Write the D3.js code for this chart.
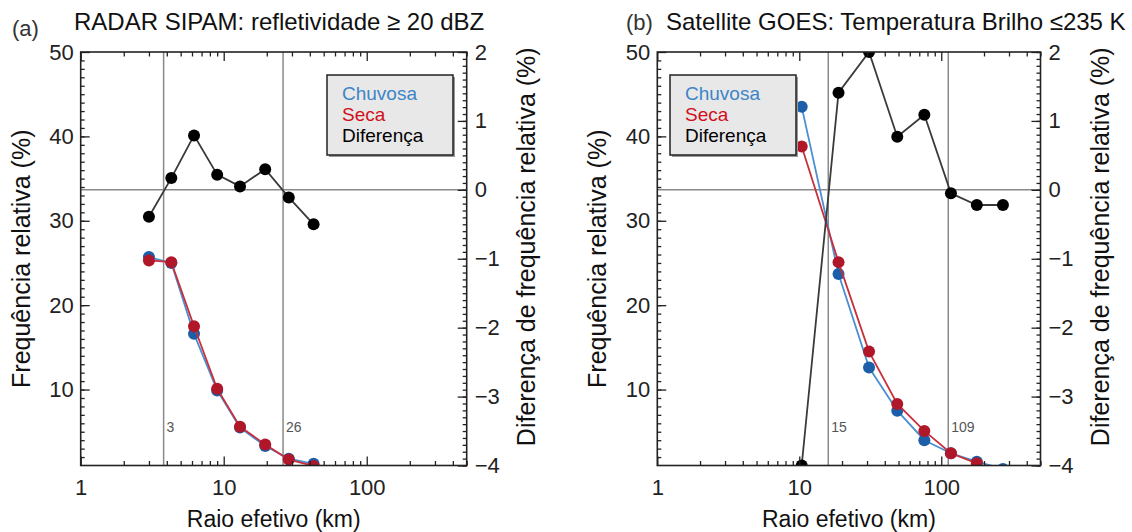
<!DOCTYPE html>
<html>
<head>
<meta charset="utf-8">
<script src="https://cdn.jsdelivr.net/npm/d3@7"></script>
<style>
  body { margin: 0; background: #fff; }
  svg { font-family: "Liberation Sans", Arial, Helvetica, sans-serif; }
  .domain { display: none; }
</style>
</head>
<body>
<svg id="chart" width="1132" height="532"></svg>
<script>
// panel (a) radar
const radiusA = [3.0, 4.3, 6.2, 9.0, 13.0, 19.5, 28.5, 42.5];
const chuvosaA = [25.7, 25.0, 16.6, 9.9, 5.5, 3.3, 1.8, 1.2];
const secaA = [25.3, 25.1, 17.5, 10.1, 5.6, 3.5, 1.7, 0.95];
const difA = [-0.39, 0.17, 0.79, 0.22, 0.05, 0.30, -0.11, -0.50];
const limitsA = [3.8, 26];
const limitLabelsA = ["3", "26"];

// panel (b) satellite
const radiusB = [10.4, 18.9, 31, 49, 76, 117, 178, 272];
const chuvosaB = [43.5, 23.7, 12.6, 7.5, 4.0, 2.45, 1.45, 0.6];
const secaB = [38.8, 25.1, 14.5, 8.3, 5.1, 2.45, 1.26, null];
const difB = [-4.0, 1.41, 2.0, 0.77, 1.09, -0.05, -0.22, -0.22];
const limitsB = [16, 112];
const limitLabelsB = ["15", "109"];

// axes
const xTicks = [1, 10, 100];
const xMinor = [2, 3, 4, 5, 6, 7, 8, 9, 20, 30, 40, 50, 60, 70, 80, 90, 200, 300, 400, 500];
const yTicks = [10, 20, 30, 40, 50];
const difTicks = [-4, -3, -2, -1, 0, 1, 2];
const legendNames = ["Chuvosa", "Seca", "Diferença"];

const colors = {
    chuvosa: "#1c5ea8", chuvosaLine: "#4a8fd0",
    seca: "#b0182a", secaLine: "#c8303c",
    dif: "#000", difLine: "#3a3a3a",
    legend: ["#3d85c6", "#d0101c", "#000"]
};

const svg = d3.select("#chart");

function drawPanel(opts) {
    const { left, right, top, bottom } = opts;

    const x = d3.scaleLog().domain([1, 500]).range([left, right]);
    const y = d3.scaleLinear().domain([1, 50]).range([bottom, top]);
    const yDif = d3.scaleLinear().domain([-4, 2]).range([bottom, top]);

    const g = svg.append("g");
    const clipId = "clip-" + opts.id;
    g.append("clipPath").attr("id", clipId)
        .append("rect")
        .attr("x", left).attr("y", top)
        .attr("width", right - left).attr("height", bottom - top);

    //reference lines
    g.selectAll(".limit")
        .data(opts.limits)
        .enter().append("line")
        .attr("x1", d => x(d)).attr("x2", d => x(d))
        .attr("y1", top).attr("y2", bottom)
        .attr("stroke", "#8a8a8a").attr("stroke-width", 1.5);

    g.selectAll(".limitLabel")
        .data(opts.limits)
        .enter().append("text")
        .attr("x", d => x(d) + 3)
        .attr("y", 432)
        .attr("font-size", 14)
        .attr("fill", "#555")
        .text((d, i) => opts.limitLabels[i]);

    g.append("line")
        .attr("x1", left).attr("x2", right)
        .attr("y1", yDif(0)).attr("y2", yDif(0))
        .attr("stroke", "#8a8a8a").attr("stroke-width", 1.5);

    //series
    const data = g.append("g").attr("clip-path", `url(#${clipId})`);

    function series(values, yScale, lineColor, dotColor, width) {
        const pts = opts.radius.map((r, i) => ({ r: r, v: values[i] }))
            .filter(d => d.v != null);
        data.append("path")
            .datum(pts)
            .attr("fill", "none")
            .attr("stroke", lineColor)
            .attr("stroke-width", width)
            .attr("d", d3.line().x(d => x(d.r)).y(d => yScale(d.v)));
        data.selectAll(null)
            .data(pts)
            .enter().append("circle")
            .attr("cx", d => x(d.r))
            .attr("cy", d => yScale(d.v))
            .attr("r", 6)
            .attr("fill", dotColor);
    }

    series(opts.chuvosa, y, colors.chuvosaLine, colors.chuvosa, 1.8);
    series(opts.seca, y, colors.secaLine, colors.seca, 1.8);
    series(opts.dif, yDif, colors.difLine, colors.dif, 1.8);

    //frame
    g.append("rect")
        .attr("x", left).attr("y", top)
        .attr("width", right - left).attr("height", bottom - top)
        .attr("fill", "none").attr("stroke", "#222").attr("stroke-width", 1.6);

    const tickStyle = sel => {
        sel.selectAll(".tick line").attr("stroke", "#222").attr("stroke-width", 1.3);
        sel.selectAll(".tick text").attr("fill", "#222").attr("font-size", 22);
        sel.attr("font-family", null);
    };

    g.append("g").attr("transform", `translate(${left},0)`)
        .call(d3.axisLeft(y).tickValues(yTicks).tickSize(-9).tickPadding(7))
        .call(tickStyle);
    g.append("g").attr("transform", `translate(${left},0)`)
        .call(d3.axisLeft(y).tickValues(d3.range(2, 50)).tickSize(-4).tickFormat(""))
        .call(tickStyle);

    g.append("g").attr("transform", `translate(${right},0)`)
        .call(d3.axisRight(yDif).tickValues(difTicks).tickSize(-9).tickPadding(8)
            .tickFormat(d => d < 0 ? "\u2212" + Math.abs(d) : d))
        .call(tickStyle);
    g.append("g").attr("transform", `translate(${right},0)`)
        .call(d3.axisRight(yDif).tickValues(d3.range(-40, 21).map(d => d / 10)).tickSize(-4).tickFormat(""))
        .call(tickStyle);

    g.append("g").attr("transform", `translate(0,${bottom})`)
        .call(d3.axisBottom(x).tickValues(xTicks).tickSize(-9).tickPadding(14).tickFormat(d3.format("d")))
        .call(tickStyle);
    g.append("g").attr("transform", `translate(0,${bottom})`)
        .call(d3.axisBottom(x).tickValues(xMinor).tickSize(-4.5).tickFormat(""))
        .call(tickStyle);
    g.append("g").attr("transform", `translate(0,${top})`)
        .call(d3.axisTop(x).tickValues(xTicks).tickSize(-9).tickFormat(""))
        .call(tickStyle);
    g.append("g").attr("transform", `translate(0,${top})`)
        .call(d3.axisTop(x).tickValues(xMinor).tickSize(-4.5).tickFormat(""))
        .call(tickStyle);

    //titles
    g.append("text")
        .attr("x", opts.tagX).attr("y", opts.tagY)
        .attr("font-size", 22).attr("fill", "#333")
        .text(opts.tag);
    g.append("text")
        .attr("x", opts.titleX).attr("y", 30)
        .attr("font-size", 24).attr("fill", "#111")
        .text(opts.title);

    g.append("text")
        .attr("x", (left + right) / 2).attr("y", 527)
        .attr("text-anchor", "middle")
        .attr("font-size", 23).attr("fill", "#111")
        .text("Raio efetivo (km)");

    g.append("text")
        .attr("transform", `translate(${left - 51},${(top + bottom) / 2}) rotate(-90)`)
        .attr("text-anchor", "middle")
        .attr("font-size", 25).attr("fill", "#111")
        .text("Frequência relativa (%)");

    g.append("text")
        .attr("transform", `translate(${right + 68},${(top + bottom) / 2 - 12}) rotate(-90)`)
        .attr("text-anchor", "middle")
        .attr("font-size", 25).attr("fill", "#111")
        .text("Diferença de frequência relativa (%)");

    //legend
    const lg = g.append("g").attr("transform", `translate(${opts.legendX},75)`);
    lg.append("rect")
        .attr("x", 2).attr("y", 2).attr("width", 126).attr("height", 80)
        .attr("fill", "#999");
    lg.append("rect")
        .attr("width", 126).attr("height", 80)
        .attr("fill", "#e8e8e8").attr("stroke", "#222").attr("stroke-width", 1.5);
    lg.selectAll("text")
        .data(legendNames)
        .enter().append("text")
        .attr("x", 15)
        .attr("y", (d, i) => 25 + i * 21)
        .attr("font-size", 19)
        .attr("fill", (d, i) => colors.legend[i])
        .text(d => d);
}

drawPanel({
    id: "a", left: 80.7, right: 466.7, top: 52, bottom: 465.5,
    radius: radiusA, chuvosa: chuvosaA, seca: secaA, dif: difA,
    limits: limitsA, limitLabels: limitLabelsA,
    tag: "(a)", tagX: 12, tagY: 36,
    title: "RADAR SIPAM: refletividade \u2265 20 dBZ", titleX: 74,
    legendX: 327
});

drawPanel({
    id: "b", left: 657.3, right: 1040.5, top: 52, bottom: 465.5,
    radius: radiusB, chuvosa: chuvosaB, seca: secaB, dif: difB,
    limits: limitsB, limitLabels: limitLabelsB,
    tag: "(b)", tagX: 626, tagY: 30,
    title: "Satellite GOES: Temperatura Brilho \u2264235 K", titleX: 666,
    legendX: 670
});
</script>
</body>
</html>
